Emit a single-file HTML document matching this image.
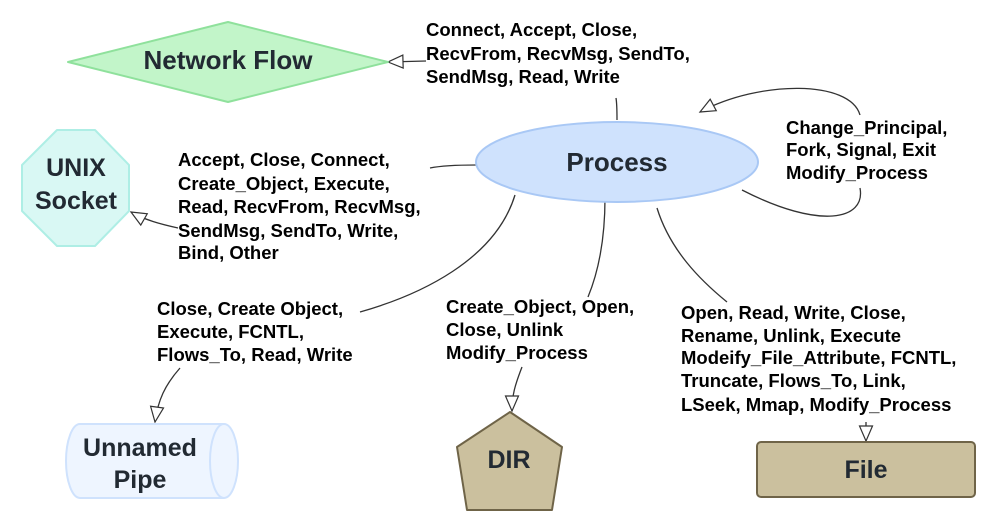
<!DOCTYPE html>
<html><head><meta charset="utf-8"><style>
html,body{margin:0;padding:0;background:#fff;}
svg{display:block;}
text{font-family:"Liberation Sans",Arial,sans-serif;font-weight:bold;fill:#000;}
.n{fill:#222a33;}
</style></head><body>
<svg width="997" height="520" viewBox="0 0 997 520" xmlns="http://www.w3.org/2000/svg">
<defs>
<marker id="a" markerWidth="18" markerHeight="16" refX="16" refY="8" orient="auto" markerUnits="userSpaceOnUse">
<path d="M1,1.5 L16,8 L1,14.5 Z" fill="#fff" stroke="#333" stroke-width="1.2"/>
</marker>
</defs>
<g fill="none" stroke="#333" stroke-width="1.3">
<path d="M617,120 C617,110 617,104 616,98"/>
<path d="M426,61 L388,62" marker-end="url(#a)"/>
<path d="M860,188 C866,220 820,230 742,190"/>
<path d="M860,115 C850,80 760,80 700,112" marker-end="url(#a)"/>
<path d="M476,165 C455,165 440,166 430,168"/>
<path d="M178,228 C160,224 145,220 131,212" marker-end="url(#a)"/>
<path d="M515,195 C495,260 420,295 360,312"/>
<path d="M180,368 C165,385 158,400 155,422" marker-end="url(#a)"/>
<path d="M605,198 C605,250 595,280 588,297"/>
<path d="M522,367 C515,385 512,395 512,411" marker-end="url(#a)"/>
<path d="M657,208 C670,250 700,280 727,302"/>
<path d="M866,422 L866,441" marker-end="url(#a)"/>
</g>
<ellipse cx="617" cy="162" rx="141" ry="40" fill="#cfe2fd" stroke="#a9c8f5" stroke-width="2"/>
<text x="617" y="171" font-size="26" text-anchor="middle" class="n">Process</text>
<polygon points="68,62 228,22 388,62 228,102" fill="#c2f5c9" stroke="#8fe19c" stroke-width="2" stroke-linejoin="round"/>
<text x="228" y="69" font-size="26" text-anchor="middle" class="n">Network Flow</text>
<polygon points="57,130 95,130 129,165 129,211 95,246 57,246 22,211 22,165" fill="#d9f8f4" stroke="#aeeee5" stroke-width="2" stroke-linejoin="round"/>
<text x="76" y="176" font-size="25" text-anchor="middle" class="n">UNIX</text>
<text x="76" y="209" font-size="25" text-anchor="middle" class="n">Socket</text>
<path d="M80,424 L224,424 A14,37 0 0 1 224,498 L80,498 A14,37 0 0 1 80,424 Z" fill="#eef5ff" stroke="#cfe2fd" stroke-width="2"/>
<path d="M224,424 A14,37 0 0 0 224,498" fill="none" stroke="#cfe2fd" stroke-width="2"/>
<text x="140" y="456" font-size="25" text-anchor="middle" class="n">Unnamed</text>
<text x="140" y="488" font-size="25" text-anchor="middle" class="n">Pipe</text>
<polygon points="510,412 562,447 552,510 467,510 457,447" fill="#cbc09e" stroke="#6f6448" stroke-width="2" stroke-linejoin="round"/>
<text x="509" y="468" font-size="25" text-anchor="middle" class="n">DIR</text>
<rect x="757" y="442" width="218" height="55" rx="4" fill="#cbc09e" stroke="#6f6448" stroke-width="2"/>
<text x="866" y="478" font-size="25" text-anchor="middle" class="n">File</text>
<g font-size="18.5">
<text x="426" y="36">Connect, Accept, Close,</text>
<text x="426" y="60">RecvFrom, RecvMsg, SendTo,</text>
<text x="426" y="83">SendMsg, Read, Write</text>
<text x="786" y="134">Change_Principal,</text>
<text x="786" y="156">Fork, Signal, Exit</text>
<text x="786" y="179">Modify_Process</text>
<text x="178" y="166">Accept, Close, Connect,</text>
<text x="178" y="190">Create_Object, Execute,</text>
<text x="178" y="213">Read, RecvFrom, RecvMsg,</text>
<text x="178" y="237">SendMsg, SendTo, Write,</text>
<text x="178" y="259">Bind, Other</text>
<text x="157" y="315">Close, Create Object,</text>
<text x="157" y="338">Execute, FCNTL,</text>
<text x="157" y="361">Flows_To, Read, Write</text>
<text x="446" y="313">Create_Object, Open,</text>
<text x="446" y="336">Close, Unlink</text>
<text x="446" y="359">Modify_Process</text>
<text x="681" y="319">Open, Read, Write, Close,</text>
<text x="681" y="342">Rename, Unlink, Execute</text>
<text x="681" y="364">Modeify_File_Attribute, FCNTL,</text>
<text x="681" y="387">Truncate, Flows_To, Link,</text>
<text x="681" y="411">LSeek, Mmap, Modify_Process</text>
</g>
</svg>
</body></html>
